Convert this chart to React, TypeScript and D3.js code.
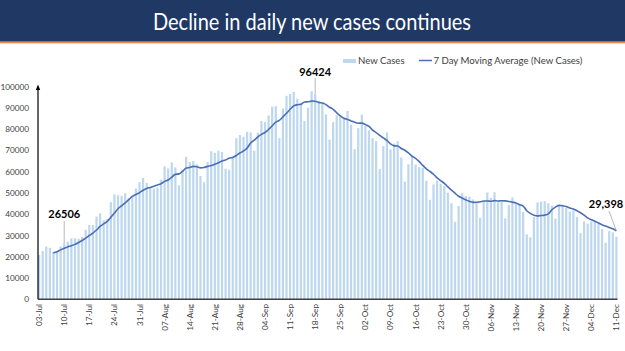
import React from "react";
import * as d3 from "d3";

// Daily new cases, 03-Jul .. 11-Dec
const priorDays: number[] = [18653, 19148]; // 01-Jul, 02-Jul (used only by the moving average window)
const julCases: number[] = [20903, 22771, 24850, 24248, 22252, 22752, 24879, 26506, 27114, 28637, 28701, 28498, 29429, 32695, 34956, 34884, 38902, 40425, 37148, 37724, 45720, 49310, 48916, 48661, 49931, 47703, 48513, 52123, 55079];
const augCases: number[] = [57118, 54735, 52972, 52050, 52509, 56282, 62538, 61537, 64399, 62064, 53601, 60963, 66999, 64553, 65002, 63490, 57981, 55079, 64531, 69652, 68898, 69878, 69239, 61408, 60975, 67151, 75760, 77266, 76472, 78761, 78512];
const sepCases: number[] = [69921, 78357, 83883, 83341, 86432, 90632, 90802, 75809, 89706, 95735, 96551, 97570, 94372, 92071, 83809, 90123, 97894, 96424, 93337, 92605, 86961, 75083, 83347, 86508, 86052, 85362, 88600, 82170, 70589, 80472];
const octCases: number[] = [86821, 81484, 79476, 75829, 74442, 61267, 72049, 78524, 70496, 73272, 74383, 66732, 55342, 63509, 67708, 63371, 62212, 61871, 55722, 46790, 54044, 55839, 54366, 53370, 50129, 45148, 36470, 43893, 49881, 48648, 48268];
const novCases: number[] = [46963, 45231, 38310, 46253, 50209, 47638, 50357, 45674, 45903, 38073, 44281, 47905, 44879, 44878, 41100, 30548, 29163, 38617, 45576, 45882, 46232, 45209, 44059, 37975, 44376, 44489, 43082, 41322, 41810, 38772];
const decCases: number[] = [31118, 36604, 35551, 36595, 36652, 36011, 32981, 26567, 32080, 31521, 29398];

const newCases: number[] = [...julCases, ...augCases, ...sepCases, ...octCases, ...novCases, ...decCases];
const startDate = new Date(2020, 6, 3);
const dates: Date[] = d3.timeDay.range(startDate, d3.timeDay.offset(startDate, newCases.length));
const fmt = d3.timeFormat("%d-%b");
const categories: string[] = dates.map((d) => fmt(d));

const yTicks: number[] = [0, 10000, 20000, 30000, 40000, 50000, 60000, 70000, 80000, 90000, 100000];
const maStartIndex = 4;
const annotations = [
  { index: 7, text: "26506", target: "bar" },
  { index: 77, text: "96424", target: "bar" },
  { index: 161, text: "29,398", target: "line" },
];

const title = "Decline in daily new cases continues";

export default function App() {
  const W = 625;
  const H = 351;
  const x = d3.scaleBand<string>().domain(categories).range([38, 617.5]).paddingInner(0.38).paddingOuter(0);
  const y = d3.scaleLinear().domain([0, 100000]).range([299.3, 86.7]);
  const cx = (i: number) => (x(categories[i]) as number) + x.bandwidth() / 2;

  const all = [...priorDays, ...newCases];
  const off = priorDays.length;
  const ma: { i: number; v: number }[] = [];
  for (let i = maStartIndex; i < newCases.length; i++) {
    const j = i + off;
    const win = all.slice(j - 6, j + 1);
    ma.push({ i, v: d3.mean(win) as number });
  }
  const line = d3
    .line<{ i: number; v: number }>()
    .x((d) => cx(d.i))
    .y((d) => y(d.v))
    .curve(d3.curveMonotoneX);

  const tickIdx = categories.map((_, i) => i).filter((i) => i % 7 === 0);
  const font = "Lato, 'Open Sans', sans-serif";

  const annPos = (a: { index: number; text: string; target: string }) => {
    if (a.target === "line") {
      const last = ma[ma.length - 1];
      return { tx: 606, ty: 208, lx1: 609, ly1: 211, lx2: cx(a.index), ly2: y(last.v) };
    }
    const bx = cx(a.index);
    const by = y(newCases[a.index]);
    if (a.index === 7) return { tx: bx, ty: 218, lx1: bx, ly1: 221, lx2: bx, ly2: by };
    return { tx: bx, ty: 76, lx1: bx, ly1: 78, lx2: bx, ly2: by };
  };

  return (
    <svg width={W} height={H} style={{ position: "absolute", left: 0, top: 0, background: "#fff" }}>
      <rect x={0} y={0} width={W} height={41.7} fill="#1f3864" />
      <rect x={0} y={41.7} width={W} height={1.6} fill="#e8874a" />
      <text x={W / 2 - 0.5} y={29.5} textAnchor="middle" fill="#fff" fontFamily={font} fontSize={22.5} textLength={318} lengthAdjust="spacingAndGlyphs">
        {title}
      </text>

      {/* legend */}
      <rect x={343} y={59} width={13} height={4} fill="#bdd7ee" />
      <text x={358} y={63.5} fontFamily={font} fontSize={9.6} fill="#404040">New Cases</text>
      <line x1={419} x2={432} y1={60.5} y2={60.5} stroke="#4a6fb5" strokeWidth={1.5} />
      <text x={433.5} y={63.5} fontFamily={font} fontSize={9.6} fill="#404040">7 Day Moving Average (New Cases)</text>

      {/* bars */}
      {newCases.map((v, i) => (
        <rect key={i} x={x(categories[i])} y={y(v)} width={x.bandwidth()} height={y(0) - y(v)} fill="#bdd7ee" />
      ))}

      {/* moving average */}
      <path d={line(ma) as string} fill="none" stroke="#4a6fb5" strokeWidth={1.6} />

      {/* y axis */}
      <line x1={38} x2={38} y1={299.3} y2={88} stroke="#000" strokeWidth={1.2} />
      <path d="M35.8,90 L38,84.5 L40.2,90 Z" fill="#000" />
      {yTicks.map((t) => (
        <text key={t} x={29} y={y(t) + 3} textAnchor="end" fontFamily={font} fontSize={8.2} fill="#404040">
          {t}
        </text>
      ))}

      {/* x axis */}
      <line x1={38} x2={617.5} y1={299.3} y2={299.3} stroke="#404040" strokeWidth={1.4} />
      {tickIdx.map((i) => (
        <text key={i} transform={`translate(${cx(i) + 3},304) rotate(-90)`} textAnchor="end" fontFamily={font} fontSize={8.2} fill="#404040">
          {categories[i]}
        </text>
      ))}

      {/* annotations */}
      {annotations.map((a) => {
        const p = annPos(a);
        return (
          <g key={a.text}>
            <line x1={p.lx1} y1={p.ly1} x2={p.lx2} y2={p.ly2} stroke="#a6a6a6" strokeWidth={0.8} />
            <text x={p.tx} y={p.ty} textAnchor="middle" fontFamily={font} fontWeight="bold" fontSize={11} fill="#000">
              {a.text}
            </text>
          </g>
        );
      })}
    </svg>
  );
}
